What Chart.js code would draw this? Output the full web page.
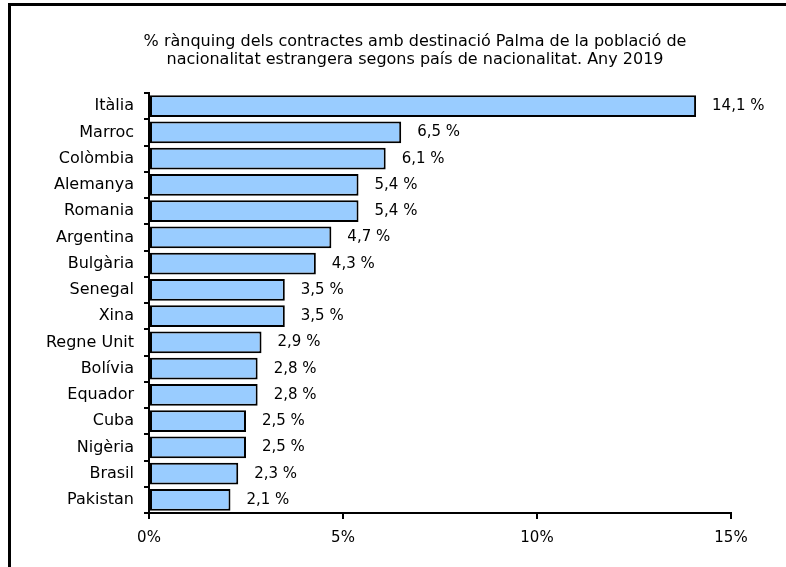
<!DOCTYPE html>
<html>
<head>
<meta charset="utf-8">
<script src="https://cdn.jsdelivr.net/npm/chart.js@4/dist/chart.umd.min.js"></script>
<style>
	html, body { margin: 0; padding: 0; background: #fff; }
	#wrap { width: 786px; height: 567px; position: relative; }
</style>
</head>
<body>
<div id="wrap"><canvas id="chart"></canvas></div>
<script>
// chart data
const countries = ['Itàlia', 'Marroc', 'Colòmbia', 'Alemanya', 'Romania', 'Argentina', 'Bulgària', 'Senegal', 'Xina', 'Regne Unit', 'Bolívia', 'Equador', 'Cuba', 'Nigèria', 'Brasil', 'Pakistan'];
const shares = [14.1, 6.5, 6.1, 5.4, 5.4, 4.7, 4.3, 3.5, 3.5, 2.9, 2.8, 2.8, 2.5, 2.5, 2.3, 2.1];
const xTicks = [0, 5, 10, 15];
const titleLines = [
	'% rànquing dels contractes amb destinació Palma de la població de',
	'nacionalitat estrangera segons país de nacionalitat. Any 2019',
];

const fontFamily = '"DejaVu Sans", sans-serif';
const fmt = (v) => v.toFixed(1).replace('.', ',');

// white page, frame lines and the two-line title
let framePlugin = {
	id: 'frame',
	beforeDraw (chart) {
		let { ctx } = chart;
		ctx.save();
		ctx.fillStyle = '#fff';
		ctx.fillRect(0, 0, chart.width, chart.height);
		ctx.strokeStyle = '#000';
		ctx.lineWidth = 3;
		ctx.beginPath();
		ctx.moveTo(8, 4.5);
		ctx.lineTo(chart.width, 4.5);
		ctx.moveTo(9.5, 3);
		ctx.lineTo(9.5, chart.height);
		ctx.stroke();

		ctx.fillStyle = '#000';
		ctx.font = '16px ' + fontFamily;
		ctx.textAlign = 'center';
		ctx.textBaseline = 'middle';
		ctx.fillText(titleLines[0], 415, 42);
		ctx.fillText(titleLines[1], 415, 60);
		ctx.restore();
	},
};

// value labels at the end of each bar
let valueLabels = {
	id: 'valueLabels',
	afterDatasetsDraw (chart) {
		let { ctx } = chart;
		let meta = chart.getDatasetMeta(0);
		ctx.save();
		ctx.fillStyle = '#000';
		ctx.font = '15px ' + fontFamily;
		ctx.textAlign = 'left';
		ctx.textBaseline = 'middle';
		meta.data.forEach((bar, i) => {
			ctx.fillText(fmt(shares[i]) + ' %', bar.x + 16, bar.y);
		});
		ctx.restore();
	},
};

new Chart(document.getElementById('chart'), {
	type: 'bar',
	data: {
		labels: countries,
		datasets: [{
			data: shares,
			backgroundColor: '#99CCFF',
			borderColor: '#000',
			borderWidth: 2,
			borderSkipped: false,
			barPercentage: 0.83,
			categoryPercentage: 1,
		}],
	},
	options: {
		indexAxis: 'y',
		responsive: true,
		maintainAspectRatio: false,
		animation: false,
		layout: {
			padding: { top: 93, right: 55, bottom: 0, left: 0 },
		},
		plugins: {
			legend: { display: false },
			tooltip: { enabled: false },
		},
		scales: {
			x: {
				min: 0,
				max: 15,
				afterBuildTicks: (scale) => { scale.ticks = xTicks.map(v => ({ value: v })); },
				afterFit: (scale) => { scale.height = 54; },
				ticks: {
					color: '#000',
					font: { family: fontFamily, size: 15 },
					padding: 10,
					maxRotation: 0,
					callback: (v) => v + '%',
				},
				grid: {
					drawOnChartArea: false,
					drawTicks: true,
					tickLength: 6,
					color: '#000',
					lineWidth: 2,
				},
				border: { color: '#000', width: 2 },
			},
			y: {
				afterFit: (scale) => { scale.width = 149; },
				ticks: {
					color: '#000',
					font: { family: fontFamily, size: 16 },
					padding: 10,
					autoSkip: false,
				},
				grid: {
					offset: true,
					drawOnChartArea: false,
					drawTicks: true,
					tickLength: 5,
					color: '#000',
					lineWidth: 2,
				},
				border: { color: '#000', width: 2 },
			},
		},
	},
	plugins: [ framePlugin, valueLabels ],
});
</script>
</body>
</html>
